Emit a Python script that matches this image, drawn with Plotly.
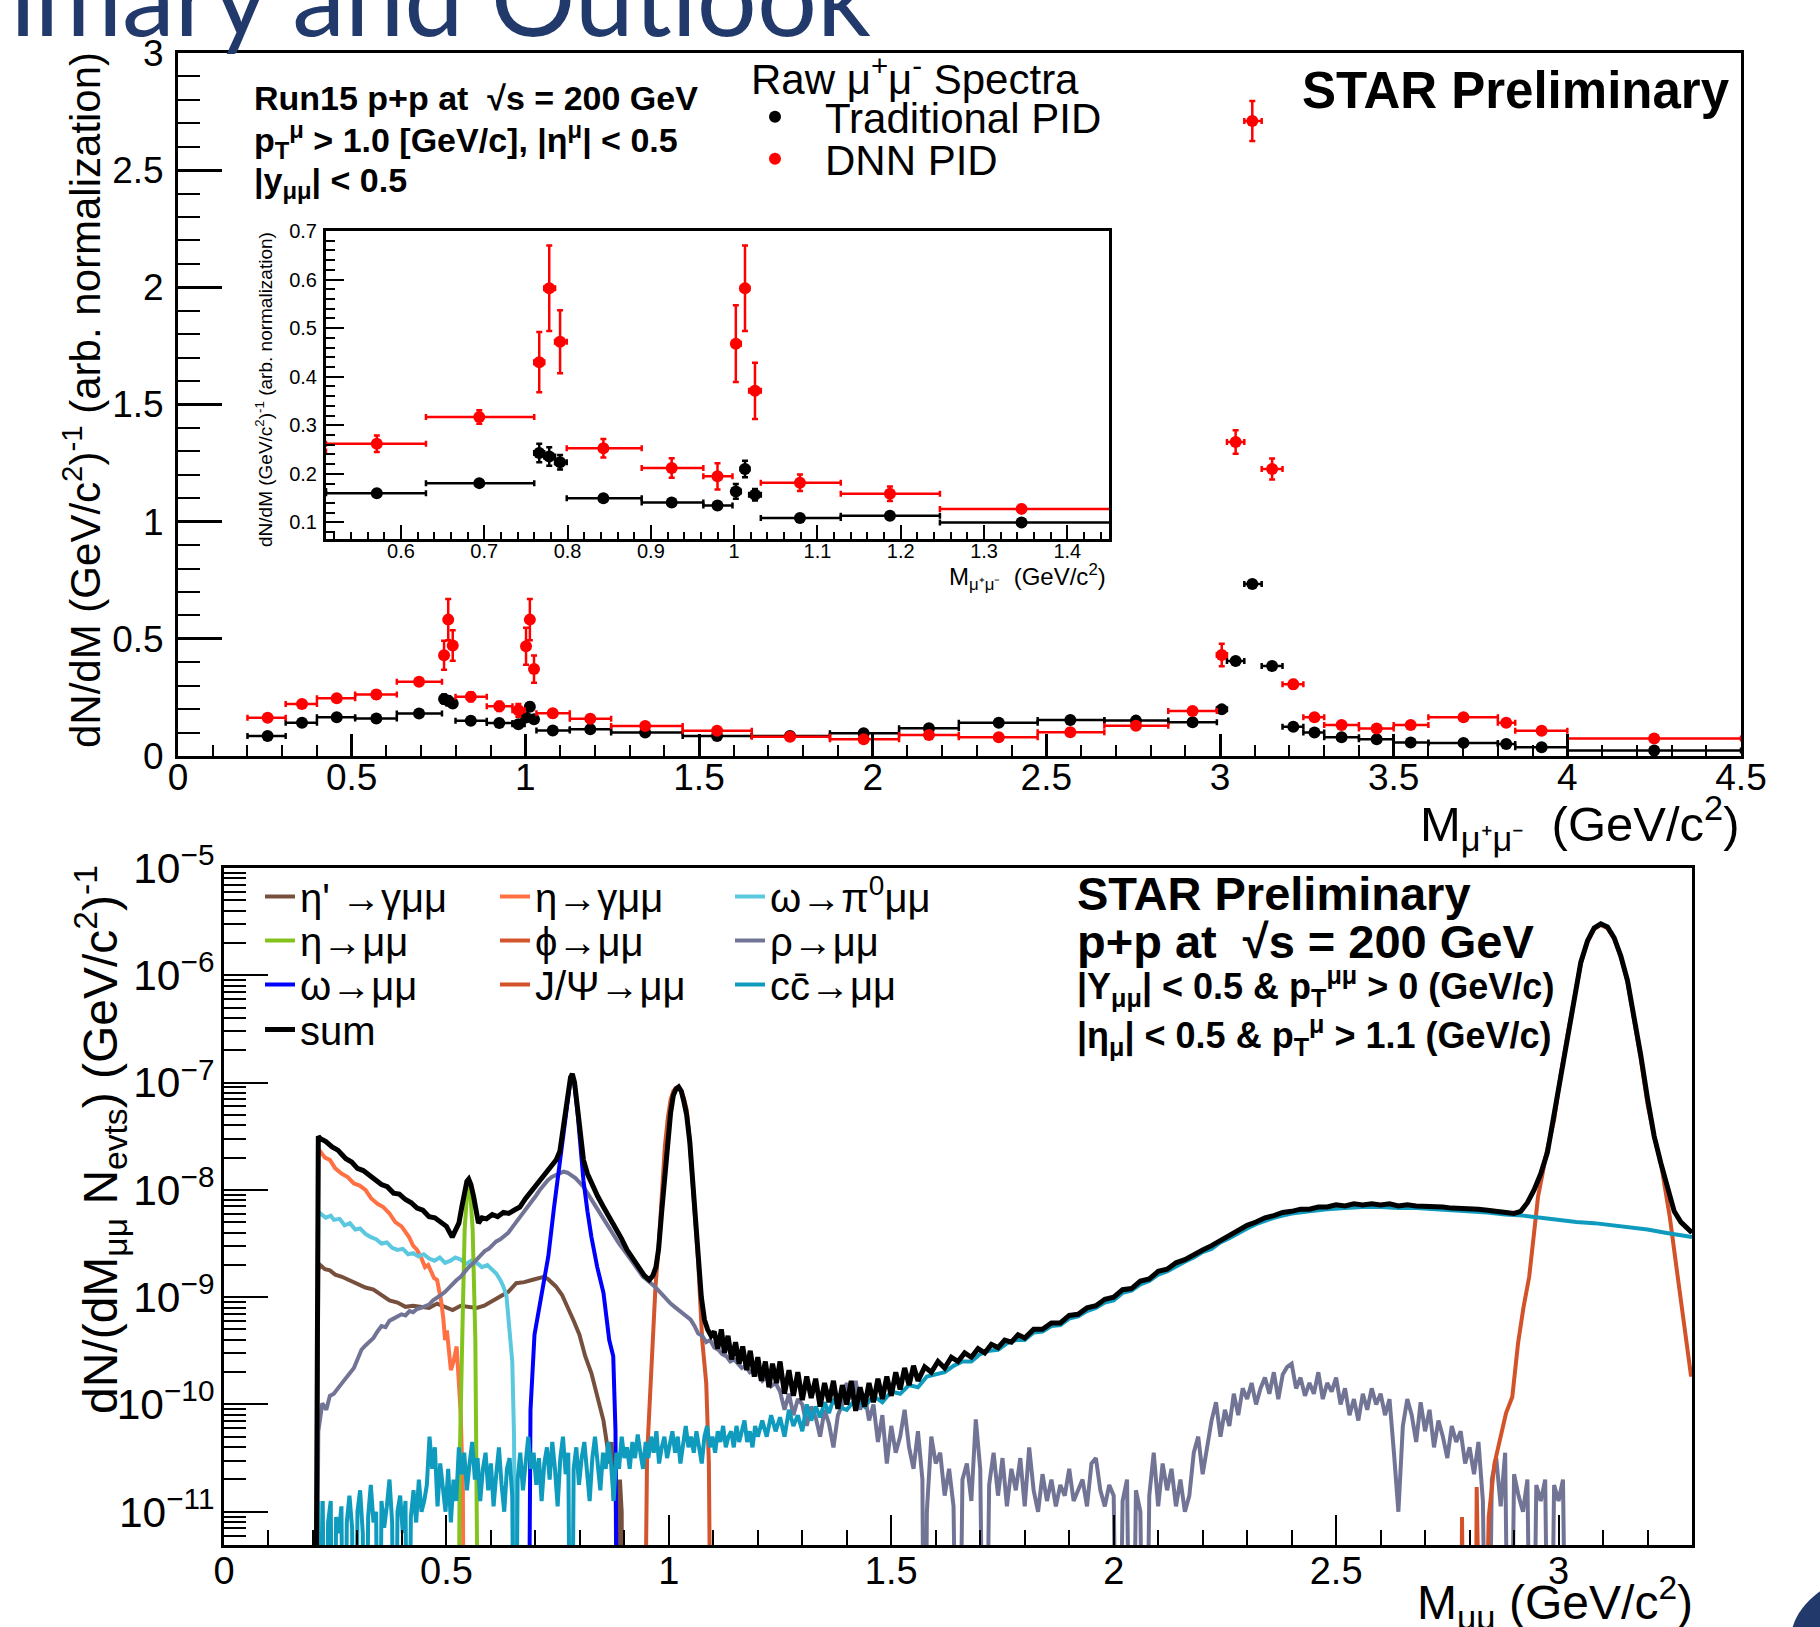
import plotly.graph_objects as go

W, H = 1820, 1627
FONT = "Liberation Sans, Arial, sans-serif"

# ================= top panel: raw mu+mu- spectra =================
bin_low = [0.20, 0.31, 0.40, 0.51, 0.63, 0.760, 0.772, 0.785, 0.799, 0.889,
           0.963, 0.998, 1.008, 1.018, 1.032, 1.128, 1.247, 1.453, 1.652, 1.877,
           2.076, 2.248, 2.475, 2.667, 2.851, 2.991, 3.020, 3.070, 3.120, 3.180,
           3.240, 3.300, 3.400, 3.500, 3.600, 3.800, 3.850, 4.000]
bin_high = [0.31, 0.40, 0.51, 0.63, 0.76, 0.772, 0.785, 0.799, 0.889, 0.963,
            0.998, 1.008, 1.018, 1.032, 1.128, 1.247, 1.453, 1.652, 1.877, 2.076,
            2.248, 2.475, 2.667, 2.851, 2.991, 3.020, 3.070, 3.120, 3.180, 3.240,
            3.300, 3.400, 3.500, 3.600, 3.800, 3.850, 4.000, 4.500]
bin_center = [0.258, 0.357, 0.457, 0.571, 0.694, 0.766, 0.778, 0.791, 0.843, 0.925,
              0.980, 1.002, 1.013, 1.025, 1.079, 1.187, 1.345, 1.552, 1.762, 1.974,
              2.162, 2.363, 2.569, 2.758, 2.921, 3.005, 3.045, 3.093, 3.150, 3.211,
              3.272, 3.350, 3.451, 3.549, 3.701, 3.824, 3.926, 4.250]
traditional_pid = [0.085, 0.142, 0.165, 0.160, 0.181, 0.243, 0.236, 0.224, 0.150, 0.141,
                   0.135, 0.164, 0.210, 0.157, 0.109, 0.114, 0.100, 0.085, 0.085, 0.097,
                   0.118, 0.142, 0.154, 0.151, 0.144, 0.199, 0.405, 0.734, 0.384, 0.125,
                   0.100, 0.080, 0.071, 0.058, 0.056, 0.051, 0.037, 0.023]
traditional_pid_err = [0.006, 0.006, 0.006, 0.006, 0.006, 0.019, 0.019, 0.015, 0.006, 0.006,
                       0.007, 0.015, 0.017, 0.012, 0.005, 0.005, 0.004, 0.004, 0.004, 0.004,
                       0.005, 0.005, 0.005, 0.005, 0.005, 0.008, 0.010, 0.012, 0.010, 0.006,
                       0.005, 0.004, 0.004, 0.004, 0.003, 0.004, 0.003, 0.002]
dnn_pid = [0.163, 0.222, 0.246, 0.262, 0.317, 0.430, 0.582, 0.472, 0.253, 0.212,
           0.195, 0.468, 0.582, 0.371, 0.182, 0.159, 0.128, 0.108, 0.082, 0.071,
           0.090, 0.080, 0.101, 0.129, 0.192, 0.431, 1.340, 2.710, 1.225, 0.306,
           0.165, 0.132, 0.117, 0.132, 0.165, 0.142, 0.108, 0.075]
dnn_pid_err = [0.010, 0.010, 0.012, 0.017, 0.014, 0.062, 0.088, 0.065, 0.019, 0.020,
               0.027, 0.079, 0.088, 0.058, 0.017, 0.015, 0.008, 0.006, 0.005, 0.005,
               0.005, 0.005, 0.006, 0.007, 0.010, 0.048, 0.050, 0.085, 0.045, 0.018,
               0.010, 0.008, 0.007, 0.007, 0.007, 0.008, 0.006, 0.004]

# ================= bottom panel: cocktail (mass, log10 dN/dM) =================
# None marks an empty bin
eta_prime_gmm = [(0.205, None), (0.212, -8.75), (0.216, -8.70), (0.227, -8.74), (0.238, -8.75),
    (0.250, -8.79), (0.265, -8.81), (0.282, -8.84), (0.300, -8.87), (0.318, -8.91), (0.336, -8.93),
    (0.354, -8.98), (0.372, -9.03), (0.390, -9.05), (0.408, -9.09), (0.425, -9.08), (0.443, -9.09),
    (0.461, -9.10), (0.479, -9.06), (0.497, -9.09), (0.514, -9.12), (0.532, -9.08), (0.550, -9.09),
    (0.568, -9.10), (0.585, -9.08), (0.603, -9.04), (0.621, -8.99), (0.639, -8.95), (0.657, -8.87),
    (0.675, -8.86), (0.692, -8.84), (0.710, -8.82), (0.719, -8.81), (0.728, -8.83), (0.737, -8.86),
    (0.746, -8.90), (0.760, -8.98), (0.773, -9.09), (0.786, -9.22), (0.799, -9.35), (0.812, -9.55),
    (0.826, -9.71), (0.840, -9.95), (0.853, -10.15), (0.862, -10.40), (0.866, -10.55), (0.871, -10.35),
    (0.876, -10.90), (0.880, -10.45), (0.885, None), (0.890, -10.70), (0.894, -11.0), (0.897, None)]
eta_gmm = [(0.205, None), (0.212, -7.62), (0.216, -7.64), (0.227, -7.70), (0.238, -7.72), (0.250, -7.80),
    (0.265, -7.85), (0.278, -7.88), (0.292, -7.94), (0.305, -7.96), (0.318, -8.00), (0.331, -8.08),
    (0.345, -8.13), (0.358, -8.16), (0.372, -8.22), (0.385, -8.30), (0.399, -8.34), (0.408, -8.40),
    (0.416, -8.44), (0.425, -8.52), (0.434, -8.56), (0.443, -8.63), (0.452, -8.72), (0.459, -8.70),
    (0.465, -8.75), (0.472, -8.82), (0.479, -8.84), (0.484, -8.95), (0.488, -9.03), (0.493, -9.20),
    (0.497, -9.40), (0.501, -9.31), (0.506, -9.55), (0.510, -9.68), (0.516, -9.60), (0.523, -9.46),
    (0.528, -9.80), (0.532, -10.08), (0.537, -10.80), (0.541, None)]
omega_pi0mm = [(0.205, None), (0.212, -8.20), (0.216, -8.22), (0.229, -8.26), (0.240, -8.24),
    (0.247, -8.28), (0.260, -8.27), (0.271, -8.33), (0.283, -8.31), (0.295, -8.37), (0.306, -8.36),
    (0.318, -8.41), (0.330, -8.44), (0.342, -8.46), (0.354, -8.50), (0.366, -8.49), (0.378, -8.54),
    (0.390, -8.56), (0.402, -8.55), (0.414, -8.60), (0.425, -8.59), (0.437, -8.62), (0.449, -8.60),
    (0.461, -8.64), (0.473, -8.66), (0.485, -8.63), (0.497, -8.68), (0.509, -8.66), (0.520, -8.63),
    (0.532, -8.65), (0.544, -8.69), (0.556, -8.66), (0.568, -8.68), (0.580, -8.72), (0.592, -8.70),
    (0.603, -8.75), (0.612, -8.78), (0.621, -8.84), (0.628, -8.90), (0.635, -8.99), (0.640, -9.20),
    (0.643, -9.40), (0.648, -9.60), (0.652, -10.30), (0.657, None)]
eta_mm = [(0.525, None), (0.530, -10.50), (0.536, -9.30), (0.541, -8.37), (0.546, -8.05),
    (0.550, -7.95), (0.554, -8.05), (0.559, -8.37), (0.565, -9.40), (0.570, -10.86), (0.574, None)]
phi_mm = [(0.942, None), (0.951, -10.49), (0.958, -9.90), (0.964, -9.31), (0.970, -8.90),
    (0.977, -8.53), (0.984, -8.00), (0.991, -7.60), (0.998, -7.32), (1.004, -7.16), (1.010, -7.08),
    (1.016, -7.05), (1.022, -7.04), (1.028, -7.08), (1.034, -7.15), (1.040, -7.25), (1.047, -7.55),
    (1.053, -7.91), (1.060, -8.30), (1.066, -8.68), (1.075, -9.40), (1.084, -9.80), (1.090, -10.55),
    (1.097, None)]
omega_mm = [(0.683, None), (0.689, -10.05), (0.698, -9.35), (0.711, -9.03), (0.720, -8.85),
    (0.729, -8.62), (0.742, -8.16), (0.755, -7.75), (0.762, -7.50), (0.768, -7.29), (0.774, -7.08),
    (0.779, -6.97), (0.783, -6.93), (0.788, -7.02), (0.795, -7.29), (0.801, -7.60), (0.808, -7.91),
    (0.817, -8.20), (0.826, -8.44), (0.839, -8.72), (0.853, -8.96), (0.866, -9.40), (0.875, -9.55),
    (0.880, -10.24), (0.886, None)]
jpsi_mm = [(2.779, None), (2.783, -11.05), (2.790, None), (2.812, None), (2.816, -10.77),
    (2.829, None), (2.843, -11.05), (2.856, -10.55), (2.869, -10.33), (2.882, -10.08), (2.896, -9.93),
    (2.909, -9.43), (2.921, -9.10), (2.934, -8.81), (2.945, -8.40), (2.954, -8.06), (2.964, -7.85),
    (2.974, -7.63), (2.990, -7.35), (3.005, -6.92), (3.020, -6.56), (3.035, -6.21), (3.050, -5.89),
    (3.065, -5.69), (3.080, -5.57), (3.095, -5.53), (3.110, -5.56), (3.125, -5.66), (3.140, -5.83),
    (3.155, -6.06), (3.170, -6.40), (3.185, -6.78), (3.200, -7.20), (3.215, -7.50), (3.230, -7.75),
    (3.240, -7.98), (3.250, -8.25), (3.265, -8.72), (3.275, -9.05), (3.284, -9.34), (3.292, -9.60),
    (3.298, -9.74), (3.300, -9.65)]
rho_mm = [(0.205, None), (0.212, -10.25), (0.221, -9.99), (0.230, -10.05), (0.238, -9.92),
    (0.247, -9.90), (0.256, -9.85), (0.265, -9.80), (0.274, -9.76), (0.283, -9.71), (0.292, -9.66),
    (0.300, -9.58), (0.309, -9.49), (0.318, -9.45), (0.327, -9.42), (0.336, -9.38), (0.345, -9.32),
    (0.354, -9.27), (0.363, -9.28), (0.372, -9.22), (0.381, -9.20), (0.390, -9.18), (0.399, -9.16),
    (0.408, -9.17), (0.417, -9.13), (0.425, -9.14), (0.434, -9.11), (0.443, -9.10), (0.452, -9.08),
    (0.461, -9.07), (0.470, -9.03), (0.479, -9.01), (0.488, -8.98), (0.497, -8.95), (0.506, -8.91),
    (0.515, -8.87), (0.523, -8.84), (0.532, -8.81), (0.541, -8.76), (0.550, -8.72), (0.559, -8.69),
    (0.568, -8.65), (0.577, -8.62), (0.586, -8.57), (0.595, -8.55), (0.603, -8.52), (0.612, -8.48),
    (0.621, -8.46), (0.630, -8.43), (0.639, -8.40), (0.648, -8.35), (0.657, -8.30), (0.666, -8.26),
    (0.675, -8.21), (0.684, -8.15), (0.693, -8.10), (0.702, -8.05), (0.710, -8.00), (0.719, -7.95),
    (0.728, -7.91), (0.737, -7.88), (0.746, -7.86), (0.755, -7.84), (0.763, -7.83), (0.772, -7.84),
    (0.781, -7.86), (0.790, -7.89), (0.799, -7.93), (0.808, -7.97), (0.817, -8.03), (0.826, -8.09),
    (0.835, -8.16), (0.844, -8.22), (0.853, -8.28), (0.862, -8.34), (0.871, -8.39), (0.880, -8.45),
    (0.888, -8.50), (0.897, -8.55), (0.906, -8.60), (0.915, -8.65), (0.924, -8.70), (0.933, -8.75),
    (0.942, -8.81), (0.951, -8.84), (0.960, -8.87), (0.968, -8.90), (0.977, -8.94), (0.986, -8.98),
    (0.995, -9.03), (1.004, -9.06), (1.013, -9.09), (1.022, -9.12), (1.031, -9.15), (1.040, -9.18),
    (1.049, -9.21), (1.058, -9.27), (1.066, -9.34), (1.075, -9.36), (1.084, -9.42), (1.093, -9.40),
    (1.102, -9.47), (1.111, -9.49), (1.120, -9.53), (1.129, -9.55), (1.138, -9.60), (1.147, -9.58),
    (1.155, -9.62), (1.164, -9.66), (1.173, -9.64), (1.182, -9.70), (1.191, -9.68), (1.200, -9.71),
    (1.210, -9.78), (1.220, -9.74), (1.230, -9.83), (1.240, -9.80), (1.250, -9.88), (1.260, -10.05),
    (1.270, -9.90), (1.280, -10.10), (1.290, -9.95), (1.300, -10.00), (1.310, -10.20), (1.320, -10.02),
    (1.330, -10.12), (1.340, -10.30), (1.350, -10.05), (1.360, -10.18), (1.370, -10.40), (1.380, -10.10),
    (1.390, -10.00), (1.400, -9.80), (1.410, -9.95), (1.420, -9.78), (1.430, -10.05), (1.440, -9.90),
    (1.450, -10.15), (1.460, -10.00), (1.470, -10.35), (1.480, -10.10), (1.490, -10.55), (1.500, -10.20),
    (1.510, -10.45), (1.520, -10.30), (1.530, -10.05), (1.540, -10.40), (1.550, -10.60), (1.560, -10.25),
    (1.570, -10.70), (1.575, None), (1.580, -11.00), (1.590, -10.30), (1.600, -10.55), (1.610, -10.45),
    (1.620, -10.85), (1.630, -10.60), (1.640, -10.95), (1.650, None), (1.660, -10.70), (1.670, -10.55),
    (1.680, -10.90), (1.690, -10.14), (1.700, -10.60), (1.710, None), (1.720, -10.75), (1.730, -10.45),
    (1.740, -10.85), (1.750, -10.50), (1.760, -10.95), (1.770, -10.60), (1.780, -10.80), (1.790, -10.50),
    (1.800, -10.95), (1.810, -10.40), (1.820, -10.80), (1.830, -11.00), (1.840, -10.65), (1.850, -10.90),
    (1.860, -10.70), (1.870, -10.95), (1.880, -10.75), (1.890, -10.85), (1.900, -10.60), (1.910, -10.90),
    (1.920, -10.80), (1.930, -10.70), (1.940, -10.95), (1.950, -10.55), (1.960, -10.50), (1.970, -10.80),
    (1.980, -10.95), (1.990, -10.75), (2.000, -10.85), (2.010, None), (2.020, -10.90), (2.030, -10.70),
    (2.040, None), (2.050, -10.80), (2.060, -11.00), (2.070, None), (2.080, -10.85), (2.090, -10.45),
    (2.100, -10.95), (2.110, -10.55), (2.120, -10.80), (2.130, -10.60), (2.140, -10.95), (2.150, -10.70),
    (2.160, -11.00), (2.170, -10.85), (2.180, -10.45), (2.190, -10.30), (2.200, -10.65), (2.210, -10.40),
    (2.220, -10.15), (2.230, -9.98), (2.240, -10.30), (2.250, -10.05), (2.260, -10.20), (2.270, -9.90),
    (2.280, -10.10), (2.290, -9.85), (2.300, -9.95), (2.310, -9.80), (2.320, -10.00), (2.330, -9.85),
    (2.340, -9.75), (2.350, -9.90), (2.360, -9.70), (2.370, -9.95), (2.380, -9.72), (2.390, -9.65),
    (2.400, -9.62), (2.410, -9.85), (2.420, -9.75), (2.430, -9.92), (2.440, -9.80), (2.450, -9.90),
    (2.460, -9.70), (2.470, -9.95), (2.480, -9.80), (2.490, -9.88), (2.500, -9.75), (2.510, -10.00),
    (2.520, -9.85), (2.530, -10.10), (2.540, -9.95), (2.550, -10.15), (2.560, -9.90), (2.570, -10.05),
    (2.580, -9.85), (2.590, -10.00), (2.600, -9.90), (2.610, -10.10), (2.620, -9.95), (2.630, -10.45),
    (2.640, -11.00), (2.650, -10.20), (2.660, -9.95), (2.670, -10.10), (2.680, -10.35), (2.690, -9.98),
    (2.700, -10.25), (2.710, -10.05), (2.720, -10.40), (2.730, -10.15), (2.740, -10.30), (2.750, -10.50),
    (2.760, -10.20), (2.770, -10.35), (2.780, -10.25), (2.790, -10.55), (2.800, -10.40), (2.810, -10.65),
    (2.820, -10.35), (2.830, -10.90), (2.840, None), (2.850, -10.70), (2.860, -10.50), (2.870, -10.95),
    (2.880, -10.45), (2.890, None), (2.900, -10.65), (2.910, -10.85), (2.920, -11.00), (2.930, -10.70),
    (2.940, None), (2.950, -10.75), (2.960, -10.90), (2.970, -10.70), (2.980, None), (2.990, -10.75),
    (3.000, -10.90), (3.010, -10.70), (3.020, None)]
ccbar_mm = [(0.206, None), (0.212, -10.90), (0.216, None), (0.222, -10.90), (0.228, None), (0.234, -11.10),
    (0.240, -10.90), (0.246, None), (0.252, -11.05), (0.258, -11.20), (0.264, -10.95), (0.270, None),
    (0.276, -11.10), (0.282, -10.85), (0.288, -11.15), (0.294, None), (0.300, -11.00), (0.306, -10.80),
    (0.312, -11.20), (0.318, None), (0.324, -11.05), (0.330, -10.75), (0.336, -11.10), (0.342, -11.00),
    (0.348, None), (0.354, -10.90), (0.360, -11.15), (0.366, -10.95), (0.372, -10.70), (0.378, -11.10),
    (0.384, None), (0.390, -11.00), (0.396, -10.85), (0.402, -11.20), (0.408, -10.90), (0.414, None),
    (0.420, -11.05), (0.426, -10.80), (0.432, -11.10), (0.438, -10.70), (0.444, -11.00), (0.450, -10.90),
    (0.456, -10.75), (0.462, -10.30), (0.468, -10.60), (0.474, -10.40), (0.480, -10.95), (0.486, -10.55),
    (0.492, -10.80), (0.498, -11.00), (0.504, -10.60), (0.510, -11.10), (0.516, -10.70), (0.522, -10.90),
    (0.528, -10.40), (0.534, -10.65), (0.540, -10.45), (0.546, -10.80), (0.552, -10.55), (0.558, -10.35),
    (0.564, -10.70), (0.570, -10.50), (0.576, -10.90), (0.582, -10.60), (0.588, -10.45), (0.594, -10.80),
    (0.600, -10.55), (0.606, -10.95), (0.612, -10.65), (0.618, -10.40), (0.624, -10.75), (0.630, -11.00),
    (0.636, -10.60), (0.642, -10.50), (0.648, -10.85), (0.654, None), (0.660, -10.70), (0.666, -10.45),
    (0.672, -10.80), (0.678, -10.55), (0.684, -10.30), (0.690, -10.60), (0.696, -10.45), (0.702, -10.75),
    (0.708, -10.50), (0.714, -10.90), (0.720, -10.55), (0.726, -10.40), (0.732, -10.70), (0.738, -10.35),
    (0.744, -10.60), (0.750, -10.95), (0.756, -10.50), (0.762, -10.30), (0.768, -10.65), (0.774, -10.45),
    (0.780, None), (0.786, -10.60), (0.792, -10.40), (0.798, -10.75), (0.804, -10.50), (0.810, -10.35),
    (0.816, -10.65), (0.822, -10.90), (0.828, -10.50), (0.834, -10.30), (0.840, -10.55), (0.846, -10.80),
    (0.852, -10.45), (0.858, -10.60), (0.864, -10.35), (0.870, -10.55), (0.876, -10.90), (0.882, -10.45),
    (0.888, -10.60), (0.894, -10.30), (0.900, -10.50), (0.906, -10.40), (0.912, -10.60), (0.918, -10.35),
    (0.924, -10.50), (0.930, -10.28), (0.936, -10.45), (0.942, -10.60), (0.948, -10.35), (0.954, -10.50),
    (0.960, -10.30), (0.966, -10.45), (0.972, -10.25), (0.978, -10.55), (0.984, -10.40), (0.990, -10.30),
    (0.996, -10.50), (1.002, -10.35), (1.008, -10.25), (1.014, -10.45), (1.020, -10.30), (1.026, -10.55),
    (1.032, -10.35), (1.038, -10.20), (1.044, -10.40), (1.050, -10.30), (1.056, -10.45), (1.062, -10.25),
    (1.068, -10.40), (1.074, -10.55), (1.080, -10.30), (1.086, -10.20), (1.092, -10.40), (1.098, -10.30),
    (1.104, -10.45), (1.110, -10.25), (1.116, -10.35), (1.122, -10.20), (1.128, -10.40), (1.134, -10.30),
    (1.140, -10.25), (1.146, -10.40), (1.152, -10.20), (1.158, -10.35), (1.164, -10.25), (1.170, -10.15),
    (1.176, -10.35), (1.182, -10.25), (1.188, -10.40), (1.194, -10.20), (1.200, -10.30), (1.210, -10.15),
    (1.220, -10.30), (1.230, -10.10), (1.240, -10.25), (1.250, -10.12), (1.260, -10.30), (1.270, -10.05),
    (1.280, -10.20), (1.290, -10.10), (1.300, -10.25), (1.310, -10.00), (1.320, -10.15), (1.330, -10.02),
    (1.340, -10.12), (1.350, -9.98), (1.360, -10.08), (1.370, -9.95), (1.380, -10.02), (1.400, -10.05),
    (1.420, -9.95), (1.440, -10.02), (1.460, -9.92), (1.480, -9.98), (1.500, -9.88), (1.520, -9.90),
    (1.540, -9.82), (1.560, -9.84), (1.580, -9.74), (1.600, -9.72), (1.620, -9.70), (1.640, -9.64),
    (1.660, -9.60), (1.680, -9.60), (1.700, -9.53), (1.720, -9.50), (1.740, -9.49), (1.760, -9.43),
    (1.780, -9.40), (1.800, -9.40), (1.820, -9.33), (1.840, -9.32), (1.860, -9.27), (1.880, -9.26),
    (1.900, -9.20), (1.920, -9.18), (1.940, -9.13), (1.960, -9.10), (1.980, -9.05), (2.000, -9.03),
    (2.020, -8.96), (2.040, -8.94), (2.060, -8.88), (2.080, -8.85), (2.100, -8.79), (2.120, -8.76),
    (2.140, -8.71), (2.160, -8.67), (2.180, -8.63), (2.200, -8.58), (2.220, -8.55), (2.240, -8.49),
    (2.260, -8.45), (2.280, -8.40), (2.300, -8.36), (2.320, -8.32), (2.340, -8.29), (2.360, -8.26),
    (2.380, -8.24), (2.400, -8.22), (2.440, -8.20), (2.480, -8.18), (2.520, -8.17), (2.560, -8.16),
    (2.600, -8.16), (2.640, -8.17), (2.680, -8.17), (2.720, -8.18), (2.760, -8.19), (2.800, -8.20),
    (2.840, -8.21), (2.880, -8.23), (2.920, -8.24), (2.960, -8.26), (3.000, -8.28), (3.040, -8.30),
    (3.080, -8.31), (3.120, -8.33), (3.160, -8.35), (3.200, -8.37), (3.240, -8.40), (3.280, -8.43),
    (3.300, -8.44)]
sum_mm = [(0.205, None), (0.212, -7.50), (0.216, -7.52), (0.229, -7.55), (0.243, -7.60), (0.256, -7.63),
    (0.265, -7.67), (0.274, -7.71), (0.287, -7.74), (0.300, -7.80), (0.313, -7.82), (0.327, -7.86),
    (0.340, -7.90), (0.354, -7.95), (0.367, -7.97), (0.381, -8.03), (0.394, -8.04), (0.408, -8.09),
    (0.421, -8.12), (0.434, -8.17), (0.447, -8.19), (0.461, -8.25), (0.474, -8.26), (0.488, -8.30),
    (0.500, -8.34), (0.513, -8.44), (0.521, -8.38), (0.528, -8.31), (0.535, -8.15), (0.541, -8.00),
    (0.546, -7.92), (0.550, -7.90), (0.555, -7.95), (0.561, -8.06), (0.567, -8.22), (0.572, -8.31),
    (0.580, -8.26), (0.590, -8.27), (0.603, -8.23), (0.615, -8.25), (0.628, -8.21), (0.640, -8.22),
    (0.652, -8.19), (0.665, -8.16), (0.678, -8.08), (0.690, -8.02), (0.702, -7.95), (0.714, -7.90),
    (0.726, -7.84), (0.737, -7.78), (0.747, -7.72), (0.755, -7.64), (0.762, -7.45), (0.768, -7.25),
    (0.774, -7.05), (0.779, -6.95), (0.783, -6.92), (0.788, -7.00), (0.795, -7.25), (0.801, -7.50),
    (0.808, -7.72), (0.817, -7.85), (0.826, -7.94), (0.840, -8.06), (0.853, -8.16), (0.866, -8.25),
    (0.879, -8.34), (0.893, -8.45), (0.906, -8.56), (0.920, -8.64), (0.933, -8.72), (0.945, -8.80),
    (0.956, -8.84), (0.964, -8.80), (0.971, -8.72), (0.977, -8.55), (0.984, -8.20), (0.991, -7.85),
    (0.998, -7.50), (1.004, -7.28), (1.010, -7.12), (1.016, -7.06), (1.022, -7.04), (1.028, -7.08),
    (1.034, -7.18), (1.040, -7.30), (1.047, -7.55), (1.053, -7.88), (1.060, -8.30), (1.066, -8.68),
    (1.073, -9.00), (1.080, -9.21), (1.087, -9.30), (1.095, -9.36), (1.102, -9.32), (1.110, -9.48),
    (1.118, -9.30), (1.125, -9.52), (1.133, -9.36), (1.141, -9.58), (1.150, -9.42), (1.158, -9.62),
    (1.166, -9.46), (1.175, -9.68), (1.183, -9.50), (1.192, -9.74), (1.200, -9.56), (1.208, -9.78),
    (1.217, -9.60), (1.225, -9.84), (1.233, -9.62), (1.242, -9.80), (1.250, -9.60), (1.260, -9.90),
    (1.270, -9.68), (1.280, -9.92), (1.290, -9.70), (1.300, -9.96), (1.310, -9.74), (1.320, -9.94),
    (1.330, -9.76), (1.340, -10.02), (1.350, -9.80), (1.360, -9.98), (1.370, -9.78), (1.380, -10.04),
    (1.390, -9.82), (1.400, -10.00), (1.410, -9.78), (1.420, -10.06), (1.430, -9.84), (1.440, -10.02),
    (1.450, -9.80), (1.460, -9.98), (1.470, -9.76), (1.480, -9.95), (1.490, -9.74), (1.500, -9.92),
    (1.510, -9.70), (1.520, -9.86), (1.530, -9.66), (1.540, -9.82), (1.550, -9.64), (1.560, -9.78),
    (1.575, -9.65), (1.590, -9.70), (1.605, -9.60), (1.620, -9.66), (1.635, -9.56), (1.650, -9.60),
    (1.665, -9.52), (1.680, -9.56), (1.695, -9.48), (1.710, -9.52), (1.725, -9.44), (1.740, -9.47),
    (1.755, -9.40), (1.770, -9.42), (1.785, -9.35), (1.800, -9.38), (1.820, -9.30), (1.840, -9.30),
    (1.860, -9.24), (1.880, -9.24), (1.900, -9.17), (1.920, -9.16), (1.940, -9.10), (1.960, -9.08),
    (1.980, -9.02), (2.000, -9.00), (2.020, -8.93), (2.040, -8.92), (2.060, -8.85), (2.080, -8.83),
    (2.100, -8.76), (2.120, -8.74), (2.140, -8.68), (2.160, -8.65), (2.180, -8.60), (2.200, -8.56),
    (2.220, -8.52), (2.240, -8.47), (2.260, -8.42), (2.280, -8.38), (2.300, -8.33), (2.320, -8.30),
    (2.340, -8.26), (2.360, -8.24), (2.380, -8.21), (2.400, -8.20), (2.420, -8.18), (2.440, -8.18),
    (2.460, -8.16), (2.480, -8.16), (2.500, -8.14), (2.520, -8.15), (2.540, -8.13), (2.560, -8.14),
    (2.580, -8.13), (2.600, -8.14), (2.620, -8.13), (2.640, -8.15), (2.660, -8.14), (2.680, -8.15),
    (2.700, -8.15), (2.720, -8.16), (2.740, -8.16), (2.760, -8.17), (2.780, -8.17), (2.800, -8.18),
    (2.820, -8.18), (2.840, -8.19), (2.860, -8.20), (2.880, -8.21), (2.900, -8.22), (2.915, -8.20),
    (2.930, -8.12), (2.945, -8.00), (2.960, -7.85), (2.975, -7.65), (2.990, -7.30), (3.005, -6.90),
    (3.020, -6.55), (3.035, -6.20), (3.050, -5.88), (3.065, -5.68), (3.080, -5.56), (3.095, -5.52),
    (3.110, -5.55), (3.125, -5.65), (3.140, -5.82), (3.155, -6.05), (3.170, -6.38), (3.185, -6.75),
    (3.200, -7.15), (3.215, -7.50), (3.230, -7.75), (3.245, -7.98), (3.260, -8.20), (3.275, -8.30),
    (3.290, -8.37), (3.300, -8.40)]

# ================= helpers =================
def fx(px):
    return px / W

def fy(py):
    return 1 - py / H

EMPTY = 1e-14  # an empty histogram bin drops below the axis floor

def unpack(points):
    xs = [p[0] for p in points]
    ys = [EMPTY if p[1] is None else 10 ** p[1] for p in points]
    return xs, ys

err_plus = [h - c for h, c in zip(bin_high, bin_center)]
err_minus = [c - l for l, c in zip(bin_low, bin_center)]

fig = go.Figure()

# ---- top panel + inset ----
for xa, ya, show, msize in (("x", "y", True, 12), ("x2", "y2", False, 12)):
    for name, vals, errs, col, leg in (("Traditional PID", traditional_pid, traditional_pid_err, "black", "legend"),
                                       ("DNN PID", dnn_pid, dnn_pid_err, "#ff0000", "legend2")):
        fig.add_trace(go.Scatter(
            x=bin_center, y=vals, mode="markers", name=name, legend=leg,
            showlegend=show, xaxis=xa, yaxis=ya,
            marker=dict(color=col, size=msize, symbol="circle"),
            error_x=dict(type="data", symmetric=False, array=err_plus, arrayminus=err_minus,
                         color=col, thickness=2.5, width=3),
            error_y=dict(type="data", array=errs, color=col, thickness=2.5, width=3),
        ))

# ---- bottom panel ----
components = [
    ("η' →γμμ", eta_prime_gmm, "#76503c", "legend3", 4),
    ("η→γμμ", eta_gmm, "#ff7043", "legend3", 4),
    ("ω→π<sup>0</sup>μμ", omega_pi0mm, "#5bc8df", "legend3", 4),
    ("η→μμ", eta_mm, "#82c31e", "legend4", 4),
    ("ϕ→μμ", phi_mm, "#d2552d", "legend4", 4),
    ("ρ→μμ", rho_mm, "#727496", "legend4", 4),
    ("ω→μμ", omega_mm, "#0000ff", "legend5", 4),
    ("J/Ψ→μμ", jpsi_mm, "#d4522a", "legend5", 4),
    ("cc\u0304→μμ", ccbar_mm, "#0e9bbe", "legend5", 4),
    ("sum", sum_mm, "#000000", "legend6", 5),
]
for name, pts, col, leg, lw in components:
    xs, ys = unpack(pts)
    fig.add_trace(go.Scatter(x=xs, y=ys, mode="lines", name=name, legend=leg,
                             xaxis="x3", yaxis="y3",
                             line=dict(color=col, width=lw)))

# ---- axes ----
def axis_common(**kw):
    d = dict(showline=True, linecolor="black", mirror=True, ticks="inside",
             tickcolor="black", showgrid=False, zeroline=False, automargin=False,
             tickfont=dict(family=FONT, size=36, color="black"))
    d.update(kw)
    return d

fig.update_layout(
    width=W, height=H, margin=dict(l=0, r=0, t=0, b=0, pad=0, autoexpand=False),
    paper_bgcolor="white", plot_bgcolor="rgba(0,0,0,0)",
    font=dict(family=FONT, color="black"),
    xaxis=axis_common(domain=[fx(178), fx(1741)], anchor="y", range=[0, 4.5],
                      linewidth=3, dtick=0.5, tick0=0, ticklen=22, tickwidth=2.5,
                      minor=dict(ticks="inside", dtick=0.1, ticklen=11, tickwidth=2, tickcolor="black"),
                      tickfont=dict(family=FONT, size=37, color="black"), ticklabelstandoff=-13),
    yaxis=axis_common(domain=[fy(756), fy(53)], anchor="x", range=[0, 3],
                      linewidth=3, dtick=0.5, tick0=0, ticklen=44, tickwidth=2.5,
                      minor=dict(ticks="inside", dtick=0.1, ticklen=22, tickwidth=2, tickcolor="black"),
                      tickfont=dict(family=FONT, size=37, color="black"), ticklabelstandoff=4),
    xaxis2=axis_common(domain=[fx(326), fx(1109)], anchor="y2", range=[0.51, 1.45],
                       linewidth=3, dtick=0.1, tick0=0, ticklen=14, tickwidth=2,
                       minor=dict(ticks="inside", dtick=0.02, ticklen=7, tickwidth=1.5, tickcolor="black"),
                       tickfont=dict(family=FONT, size=20, color="black"), ticklabelstandoff=-8),
    yaxis2=axis_common(domain=[fy(539), fy(231)], anchor="x2", range=[0.066, 0.7],
                       linewidth=3, dtick=0.1, tick0=0, ticklen=18, tickwidth=2,
                       minor=dict(ticks="inside", dtick=0.02, ticklen=9, tickwidth=1.5, tickcolor="black"),
                       tickfont=dict(family=FONT, size=20, color="black"), ticklabelstandoff=2),
    xaxis3=axis_common(domain=[fx(224), fx(1692)], anchor="y3", range=[0, 3.3],
                       linewidth=2.5, dtick=0.5, tick0=0, ticklen=30, tickwidth=2,
                       minor=dict(ticks="inside", dtick=0.1, ticklen=15, tickwidth=1.5, tickcolor="black"),
                       tickfont=dict(family=FONT, size=38, color="black"), ticklabelstandoff=-9),
    yaxis3=axis_common(domain=[fy(1545), fy(868)], anchor="x3", type="log", range=[-11.31, -5],
                       linewidth=2.5, dtick=1, ticklen=44, tickwidth=2, exponentformat="power",
                       showexponent="all",
                       minor=dict(ticks="inside", dtick="D1", ticklen=22, tickwidth=1.5, tickcolor="black"),
                       tickfont=dict(family=FONT, size=34, color="black"), ticklabelstandoff=0),
)

# ---- legends ----
def legend_box(x, y, size, itemwidth=30, orientation="v", entrywidth=None):
    d = dict(x=fx(x), y=fy(y), xanchor="left", yanchor="top", xref="paper", yref="paper",
             bgcolor="rgba(0,0,0,0)", borderwidth=0, itemwidth=itemwidth,
             orientation=orientation, itemsizing="trace", tracegroupgap=0,
             font=dict(family=FONT, size=size, color="black"), itemclick=False)
    if entrywidth is not None:
        d["entrywidth"] = entrywidth
        d["entrywidthmode"] = "pixels"
    return d

fig.update_layout(
    legend=legend_box(725, 83, 42, itemwidth=90),
    legend2=legend_box(725, 125, 42, itemwidth=90),
    legend3=legend_box(260, 864, 40, orientation="h", entrywidth=190),
    legend4=legend_box(260, 908, 40, orientation="h", entrywidth=190),
    legend5=legend_box(260, 952, 40, orientation="h", entrywidth=190),
    legend6=legend_box(260, 997, 40, orientation="h", entrywidth=190),
)

# ---- texts ----
def note(x, y, text, size, bold=False, xanchor="left", yanchor="middle", angle=0,
         color="black", family=FONT):
    fig.add_annotation(x=fx(x), y=fy(y), xref="paper", yref="paper", text=text,
                       showarrow=False, xanchor=xanchor, yanchor=yanchor, textangle=angle,
                       font=dict(family=family, size=size, color=color,
                                 weight="bold" if bold else "normal"))

note(873, -5, "Summary and Outlook", 106, xanchor="right", color="#213a6b",
     family="Lato, Open Sans, sans-serif")
note(252, 98, "Run15 p+p at  √s = 200 GeV", 34, bold=True)
note(252, 140, "p<sub>T</sub><sup>μ</sup> &gt; 1.0 [GeV/c], |η<sup>μ</sup>| &lt; 0.5", 34, bold=True)
note(252, 182, "|y<sub>μμ</sub>| &lt; 0.5", 34, bold=True)
note(749, 76, "Raw μ<sup>+</sup>μ<sup>-</sup> Spectra", 42)
note(1732, 90, "STAR Preliminary", 51, bold=True, xanchor="right")
note(82, 400, "dN/dM (GeV/c<sup>2</sup>)<sup>-1</sup> (arb. normalization)", 42, angle=-90,
     xanchor="center")
note(1741, 824, "M<sub>μ⁺μ⁻</sub>  (GeV/c<sup>2</sup>)", 49, xanchor="right")
note(1108, 577, "M<sub>μ⁺μ⁻</sub>  (GeV/c<sup>2</sup>)", 24, xanchor="right")
note(264, 390, "dN/dM (GeV/c<sup>2</sup>)<sup>-1</sup> (arb. normalization)", 19, angle=-90,
     xanchor="center")

note(1075, 894, "STAR Preliminary", 47, bold=True)
note(1075, 941, "p+p at  √s = 200 GeV", 47, bold=True)
note(1075, 987, "|Y<sub>μμ</sub>| &lt; 0.5 &amp; p<sub>T</sub><sup>μμ</sup> &gt; 0 (GeV/c)", 36, bold=True)
note(1075, 1035, "|η<sub>μ</sub>| &lt; 0.5 &amp; p<sub>T</sub><sup>μ</sup> &gt; 1.1 (GeV/c)", 36, bold=True)
note(100, 1140, "dN/(dM<sub>μμ</sub> N<sub>evts</sub>) (GeV/c<sup>2</sup>)<sup>-1</sup>", 48,
     angle=-90, xanchor="center")
note(1695, 1602, "M<sub>μμ</sub> (GeV/c<sup>2</sup>)", 48, xanchor="right")

# slide decoration in the lower right corner
fig.add_shape(type="path", xref="paper", yref="paper", layer="above",
              path="M 1,0.022 Q 0.988,0.012 0.985,0 L 1,0 Z",
              fillcolor="#213a6b", line=dict(width=0))

fig.write_html("out.html")
